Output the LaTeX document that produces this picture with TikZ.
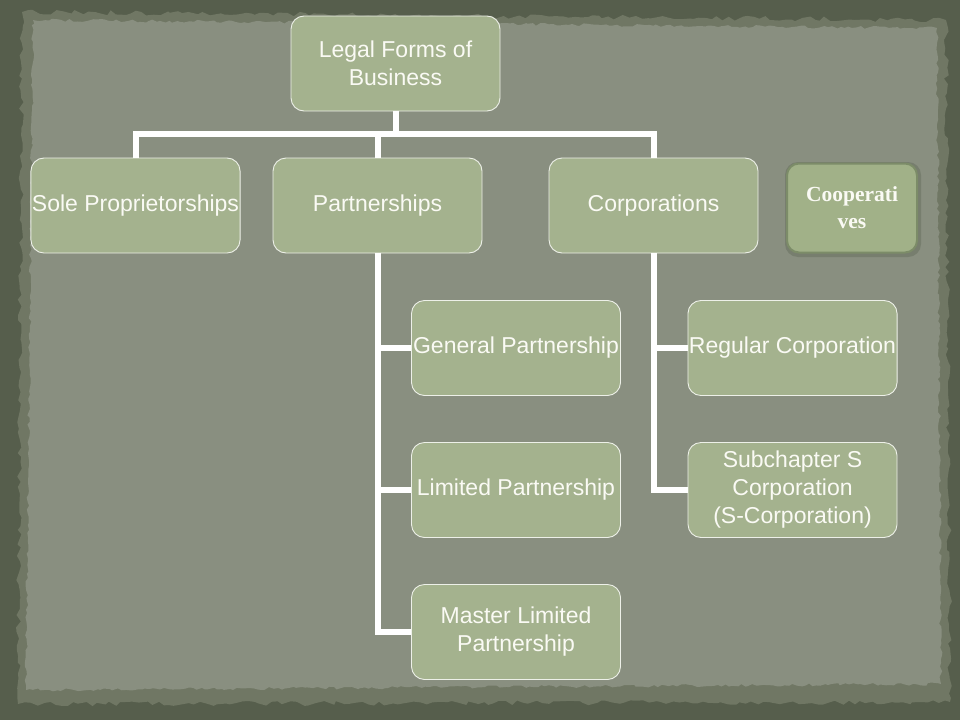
\documentclass[tikz,border=0pt]{standalone}
\usepackage{fontspec}
\setmainfont{Liberation Sans}
\newfontfamily\coopfont{Liberation Serif}
\usetikzlibrary{decorations.pathmorphing,calc}
\definecolor{outerbg}{RGB}{86,94,76}
\definecolor{midbg}{RGB}{112,119,100}
\definecolor{paper}{RGB}{137,143,128}
\definecolor{nodefill}{RGB}{164,178,142}
\definecolor{nodetext}{RGB}{250,250,244}
\definecolor{coopfill}{RGB}{161,177,136}
\definecolor{coopborder}{RGB}{124,140,104}
\begin{document}
\begin{tikzpicture}[x=1pt,y=-1pt,
  box/.style={draw=white!80!nodefill, line width=0.9pt, fill=nodefill,
    rounded corners=13pt, minimum width=209pt, minimum height=95pt,
    inner sep=1pt, text=nodetext, font=\fontsize{23}{28}\selectfont, align=center},
  coopbox/.style={draw=coopborder, line width=2pt, fill=coopfill,
    rounded corners=12pt, minimum width=130pt, minimum height=89pt,
    inner sep=1pt, text=nodetext, font=\coopfont\bfseries\fontsize{21.5}{27}\selectfont, align=center},
  conn/.style={draw=white, line width=6pt}]
\useasboundingbox (0,0) rectangle (960,720);
% background
\fill[outerbg] (0,0) rectangle (960,720);
\fill[midbg, decorate, decoration={random steps, segment length=6pt, amplitude=2.5pt}]
  (22,12) -- (946,20) -- (950,702) -- (18,704) -- cycle;
\fill[paper, decorate, decoration={random steps, segment length=4pt, amplitude=1.5pt}]
  (33,20) -- (937,28) -- (941,684) -- (26,690) -- cycle;
% nodes
\node[box] (top)  at (395.5,63.5)  {Legal Forms of\\Business};
\node[box] (sole) at (135.5,205.5) {Sole Proprietorships};
\node[box] (part) at (377.5,205.5) {Partnerships};
\node[box] (corp) at (653.5,205.5) {Corporations};
\node[box] (gp)   at (516,348)     {General Partnership};
\node[box] (lp)   at (516,490)     {Limited Partnership};
\node[box] (mlp)  at (516,632)     {Master Limited\\Partnership};
\node[box] (rc)   at (792.5,348)   {Regular Corporation};
\node[box] (sc)   at (792.5,490)   {Subchapter S\\Corporation\\(S-Corporation)};
\fill[outerbg!35!paper, rounded corners=13pt] (785,162) rectangle (921,257);
\node[coopbox] (coop) at (852,208) {Cooperati\\ves};
% connectors
\coordinate (bus) at (0,134);
\draw[conn] (top.south) -- (top.south |- bus) -| (sole.north);
\draw[conn] (top.south) -- (top.south |- bus) -| (part.north);
\draw[conn] (top.south) -- (top.south |- bus) -| (corp.north);
\draw[conn] (part.south) |- (gp.west);
\draw[conn] (part.south) |- (lp.west);
\draw[conn] (part.south) |- (mlp.west);
\draw[conn] (corp.south) |- (rc.west);
\draw[conn] (corp.south) |- (sc.west);
\end{tikzpicture}
\end{document}
